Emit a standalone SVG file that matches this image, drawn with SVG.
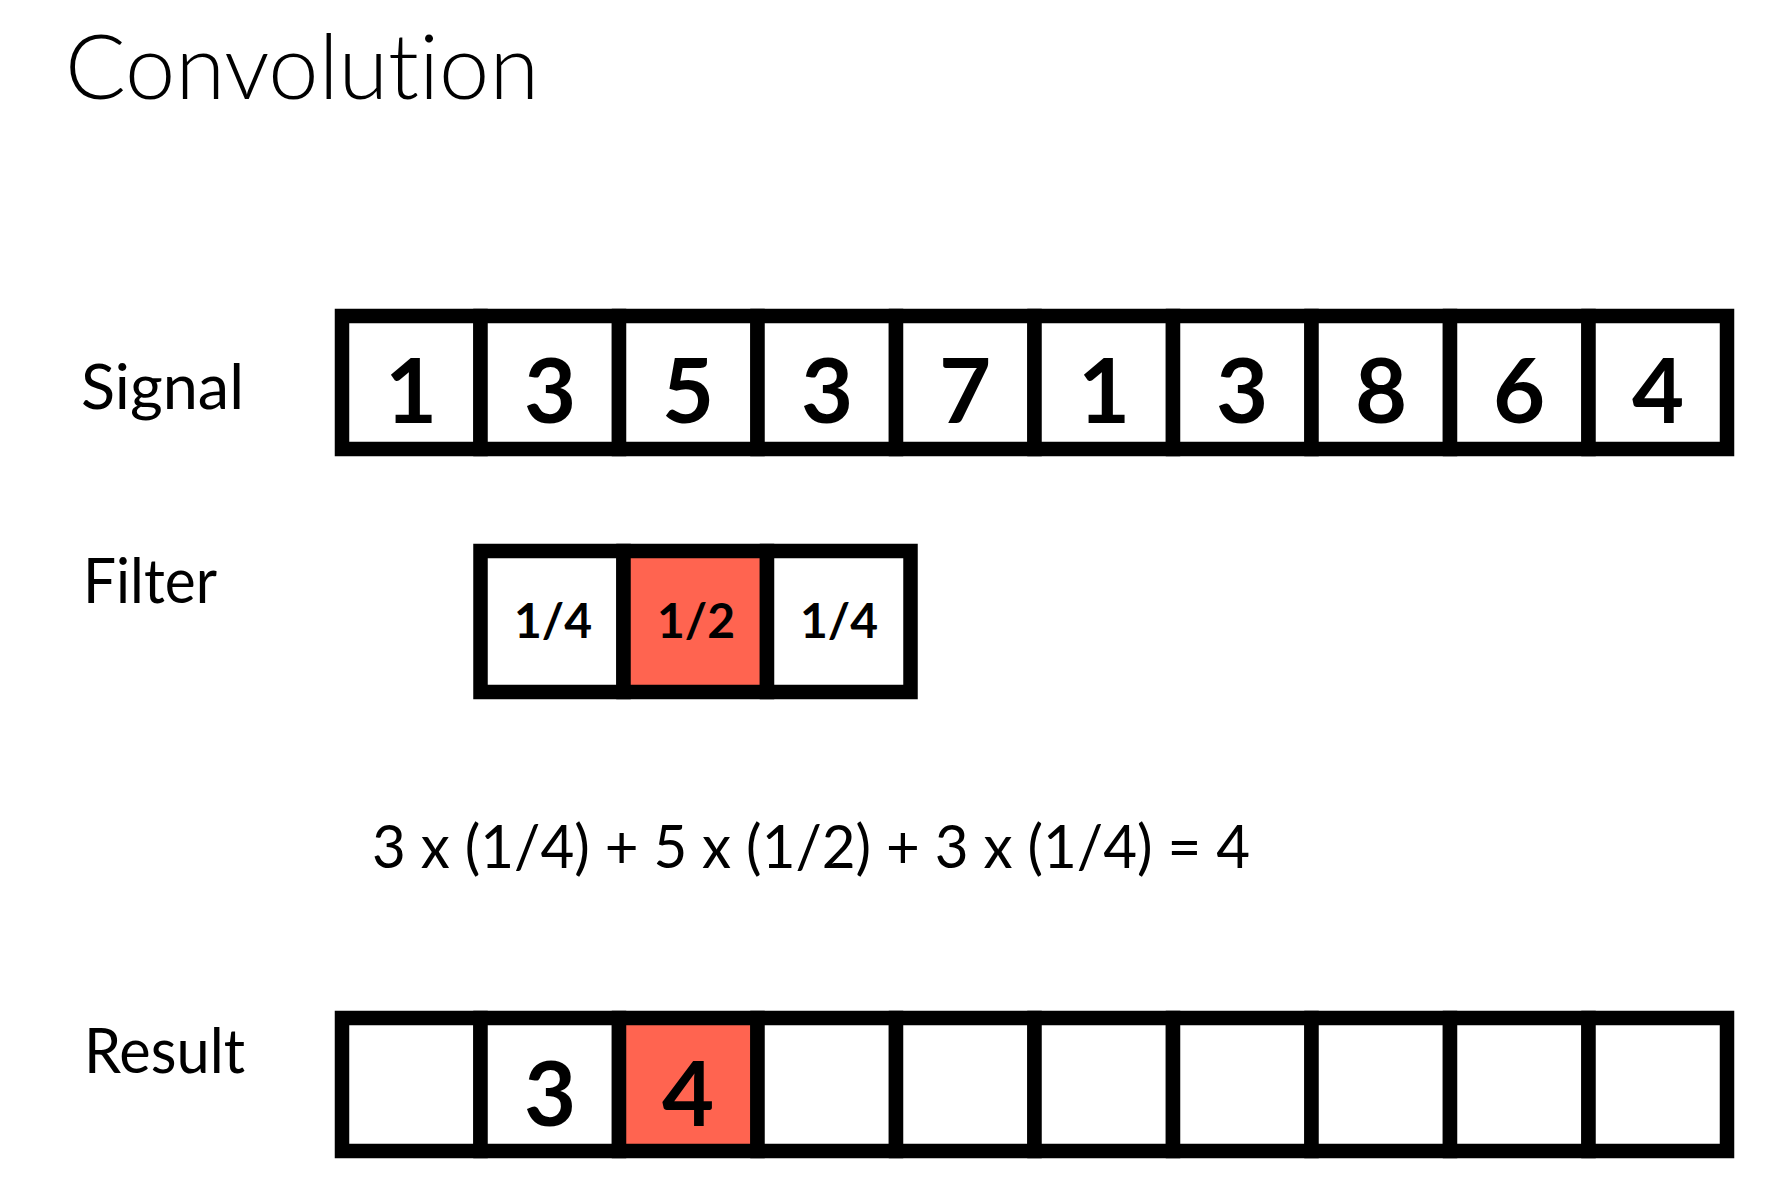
<svg xmlns="http://www.w3.org/2000/svg" width="1769" height="1183" viewBox="0 0 1769 1183">
<style>
text{font-variant-ligatures:none;font-feature-settings:"liga" 0}
.cell{fill:#fff;stroke:#000;stroke-width:14.5}
.hot{fill:#FF6450}
.lbl{font-family:Lato,"Liberation Sans",sans-serif;font-weight:400;fill:#000}
.ttl{font-weight:300}
.num{font-family:Lato,"Liberation Sans",sans-serif;font-weight:700;font-size:90px;text-anchor:middle;fill:#000}
.frac{font-family:Lato,"Liberation Sans",sans-serif;font-weight:700;font-size:48px;text-anchor:middle;fill:#000}
</style>
<rect width="1769" height="1183" fill="#fff"/>
<text id="title" class="lbl ttl" x="65" y="99" font-size="90" textLength="474" lengthAdjust="spacingAndGlyphs">Convolution</text>
<text id="label-signal" class="lbl" x="81" y="409" font-size="61" textLength="163" lengthAdjust="spacingAndGlyphs">Signal</text>
<text id="label-filter" class="lbl" x="83" y="603" font-size="61" textLength="134" lengthAdjust="spacingAndGlyphs">Filter</text>
<text id="label-result" class="lbl" x="84" y="1073" font-size="61" textLength="161" lengthAdjust="spacingAndGlyphs">Result</text>
<g id="signal">
<rect class="cell" x="342" y="316" width="138.5" height="133"/>
<rect class="cell" x="480.5" y="316" width="138.5" height="133"/>
<rect class="cell" x="619" y="316" width="138.5" height="133"/>
<rect class="cell" x="757.5" y="316" width="138.5" height="133"/>
<rect class="cell" x="896" y="316" width="138.5" height="133"/>
<rect class="cell" x="1034.5" y="316" width="138.5" height="133"/>
<rect class="cell" x="1173" y="316" width="138.5" height="133"/>
<rect class="cell" x="1311.5" y="316" width="138.5" height="133"/>
<rect class="cell" x="1450" y="316" width="138.5" height="133"/>
<rect class="cell" x="1588.5" y="316" width="138.5" height="133"/>
<text class="num" x="411" y="423">1</text>
<text class="num" x="550" y="423">3</text>
<text class="num" x="688" y="423">5</text>
<text class="num" x="827" y="423">3</text>
<text class="num" x="965" y="423">7</text>
<text class="num" x="1104" y="423">1</text>
<text class="num" x="1242" y="423">3</text>
<text class="num" x="1381" y="423">8</text>
<text class="num" x="1519" y="423">6</text>
<text class="num" x="1658" y="423">4</text>
</g>
<g id="filter">
<rect class="cell" x="480.5" y="551" width="143" height="141"/>
<rect class="cell hot" x="623.5" y="551" width="143.5" height="141"/>
<rect class="cell" x="767" y="551" width="143.5" height="141"/>
<text class="frac" x="553" y="638">1/4</text>
<text class="frac" x="696" y="638">1/2</text>
<text class="frac" x="839" y="638">1/4</text>
</g>
<text id="equation" class="lbl" x="372" y="868" font-size="60" textLength="878" lengthAdjust="spacingAndGlyphs">3 x (1/4) + 5 x (1/2) + 3 x (1/4) = 4</text>
<g id="result">
<rect class="cell" x="342" y="1018" width="138.5" height="133"/>
<rect class="cell" x="480.5" y="1018" width="138.5" height="133"/>
<rect class="cell hot" x="619" y="1018" width="138.5" height="133"/>
<rect class="cell" x="757.5" y="1018" width="138.5" height="133"/>
<rect class="cell" x="896" y="1018" width="138.5" height="133"/>
<rect class="cell" x="1034.5" y="1018" width="138.5" height="133"/>
<rect class="cell" x="1173" y="1018" width="138.5" height="133"/>
<rect class="cell" x="1311.5" y="1018" width="138.5" height="133"/>
<rect class="cell" x="1450" y="1018" width="138.5" height="133"/>
<rect class="cell" x="1588.5" y="1018" width="138.5" height="133"/>
<text class="num" x="550" y="1126">3</text>
<text class="num" x="688" y="1126">4</text>
</g>
<g id="connectors"/>
</svg>
